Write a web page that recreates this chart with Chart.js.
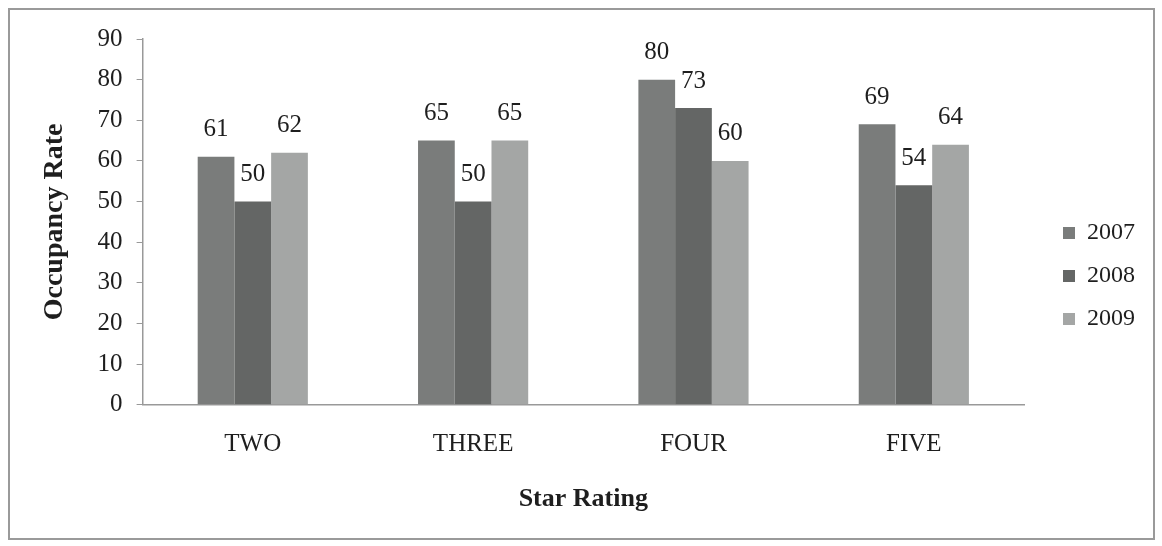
<!DOCTYPE html>
<html>
<head>
<meta charset="utf-8">
<script src="https://cdn.jsdelivr.net/npm/chart.js@4"></script>
<style>
  html, body { margin: 0; padding: 0; background: #fff; }
  #wrap { position: relative; width: 1162px; height: 546px; }
  #frame { position: absolute; left: 8px; top: 8px; width: 1147px; height: 532px; border: 2px solid #9a9a9a; box-sizing: border-box; pointer-events: none; }
</style>
</head>
<body>
<div id="wrap">
  <canvas id="chart" width="1162" height="546"></canvas>
  <div id="frame"></div>
</div>
<script>
const categories = ['TWO', 'THREE', 'FOUR', 'FIVE'];
const years = ['2007', '2008', '2009'];
const occ2007 = [61, 65, 80, 69];
const occ2008 = [50, 50, 73, 54];
const occ2009 = [62, 65, 60, 64];
const yTicks = [0, 10, 20, 30, 40, 50, 60, 70, 80, 90];

const serif = '"Liberation Serif", "Times New Roman", serif';
const textColor = '#1e1e1e';
const axisColor = '#999';

// labels above each bar
const barLabels = {
  id: 'barLabels',
  afterDatasetsDraw(chart) {
    const ctx = chart.ctx;
    ctx.save();
    ctx.font = '25px ' + serif;
    ctx.fillStyle = textColor;
    ctx.textAlign = 'center';
    ctx.textBaseline = 'middle';
    chart.data.datasets.forEach((ds, i) => {
      chart.getDatasetMeta(i).data.forEach((bar, j) => {
        ctx.fillText(ds.data[j], bar.x, bar.y - 27);
      });
    });
    ctx.restore();
  }
};

// nudge the legend a little to the right, away from the plot
const legendShift = {
  id: 'legendShift',
  afterLayout(chart) {
    chart.legend.left += 20;
    chart.legend.right += 20;
    chart.legend.top -= 3;
    chart.legend.bottom -= 3;
  }
};

new Chart(document.getElementById('chart'), {
  type: 'bar',
  data: {
    labels: categories,
    datasets: [
      { label: years[0], data: occ2007, backgroundColor: '#7a7c7b' },
      { label: years[1], data: occ2008, backgroundColor: '#646665' },
      { label: years[2], data: occ2009, backgroundColor: '#a4a6a5' }
    ]
  },
  options: {
    responsive: false,
    animation: false,
    layout: { padding: { left: 34, top: 39, right: 37, bottom: 27 } },
    datasets: { bar: { barPercentage: 1, categoryPercentage: 0.5 } },
    plugins: {
      tooltip: { enabled: false },
      legend: {
        position: 'right',
        labels: {
          boxWidth: 12, boxHeight: 12, padding: 19,
          color: textColor,
          font: { family: serif, size: 24 }
        }
      }
    },
    scales: {
      x: {
        grid: { display: false },
        border: { color: axisColor, width: 1.5 },
        ticks: { color: textColor, font: { family: serif, size: 25 }, padding: 17 },
        title: { display: true, text: 'Star Rating', color: textColor, font: { family: serif, size: 26, weight: 'bold' }, padding: { top: 7 } }
      },
      y: {
        min: 0, max: 90,
        afterBuildTicks: axis => { axis.ticks = yTicks.map(v => ({ value: v })); },
        grid: { drawOnChartArea: false, drawTicks: true, tickLength: 6, color: axisColor },
        border: { color: axisColor, width: 1.5 },
        ticks: { color: textColor, font: { family: serif, size: 25 }, padding: 14 },
        title: { display: true, text: 'Occupancy Rate', color: textColor, font: { family: serif, size: 28, weight: 'bold' }, padding: { top: 4, bottom: 12 } }
      }
    }
  },
  plugins: [barLabels, legendShift]
});
</script>
</body>
</html>
